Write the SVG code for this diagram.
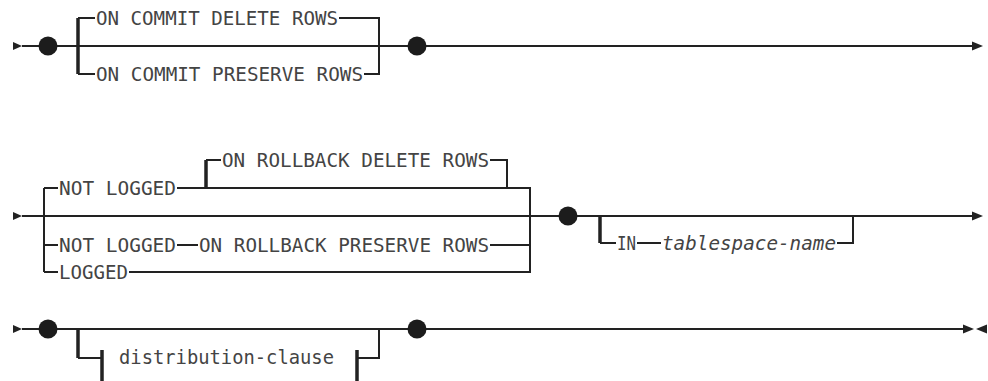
<svg xmlns="http://www.w3.org/2000/svg" width="988" height="381" viewBox="0 0 988 381">
<style>
.ln{stroke:#222;stroke-width:2;fill:none}
.thk{stroke:#222;stroke-width:3.5;fill:none}
.ah{fill:#222;stroke:none}
.dot{fill:#1c1c1c}
.t{font-family:"DejaVu Sans Mono","Liberation Mono",monospace;font-size:20px;fill:#444}
.i{font-style:italic}
</style>
<rect width="988" height="381" fill="#ffffff"/>
<g id="connectors">
  <!-- row 1 -->
  <polygon class="ah" points="13,42 22,46 13,50"/>
  <path class="ln" d="M22,46 H972"/>
  <polygon class="ah" points="972,41.5 983,46 972,50.5"/>
  <path class="thk" d="M78,18 V74"/>
  <path class="ln" d="M78,18 H95 M78,74 H95"/>
  <path class="ln" d="M339,18 H379 V74 H364"/>
  <!-- row 2 -->
  <polygon class="ah" points="13,212 22,216 13,220"/>
  <path class="ln" d="M22,216 H972"/>
  <polygon class="ah" points="972,211.5 983,216 972,220.5"/>
  <path class="ln" d="M44,188 V272 M44,188 H58 M44,245 H58 M44,272 H58"/>
  <path class="ln" d="M177,188 H530 V272 H129"/>
  <path class="ln" d="M177,245 H198 M490,245 H530"/>
  <path class="thk" d="M206,188 V160"/>
  <path class="ln" d="M206,160 H221 M490,160 H507 V188"/>
  <path class="thk" d="M600,216 V243"/>
  <path class="ln" d="M600,243 H616 M637,243 H661 M837,243 H853 V216"/>
  <!-- row 3 -->
  <polygon class="ah" points="13,325 22,329 13,333"/>
  <path class="ln" d="M22,329 H964"/>
  <polygon class="ah" points="963,324.5 974,329 963,333.5"/>
  <polygon class="ah" points="987,324.5 976,329 987,333.5"/>
  <path class="thk" d="M78,329 V358"/>
  <path class="ln" d="M78,358 H102"/>
  <path class="thk" d="M102,350 V381 M357,350 V381"/>
  <path class="ln" d="M357,358 H379 V329"/>
</g>
<g id="dot1"><circle class="dot" cx="48" cy="46" r="9.5"/></g>
<g id="dot2"><circle class="dot" cx="417" cy="46" r="9.5"/></g>
<g id="dot3"><circle class="dot" cx="568" cy="216" r="9.5"/></g>
<g id="dot4"><circle class="dot" cx="48" cy="329" r="9.5"/></g>
<g id="dot5"><circle class="dot" cx="417" cy="329" r="9.5"/></g>
<g id="on-commit-delete"><text class="t" x="96" y="25" textLength="242" lengthAdjust="spacingAndGlyphs">ON COMMIT DELETE ROWS</text></g>
<g id="on-commit-preserve"><text class="t" x="96" y="81" textLength="267" lengthAdjust="spacingAndGlyphs">ON COMMIT PRESERVE ROWS</text></g>
<g id="not-logged-1"><text class="t" x="59" y="195" textLength="117" lengthAdjust="spacingAndGlyphs">NOT LOGGED</text></g>
<g id="on-rollback-delete"><text class="t" x="222" y="167" textLength="267" lengthAdjust="spacingAndGlyphs">ON ROLLBACK DELETE ROWS</text></g>
<g id="not-logged-2"><text class="t" x="59" y="252" textLength="117" lengthAdjust="spacingAndGlyphs">NOT LOGGED</text></g>
<g id="on-rollback-preserve"><text class="t" x="199" y="252" textLength="290" lengthAdjust="spacingAndGlyphs">ON ROLLBACK PRESERVE ROWS</text></g>
<g id="logged"><text class="t" x="59" y="279" textLength="69" lengthAdjust="spacingAndGlyphs">LOGGED</text></g>
<g id="in"><text class="t" x="617" y="250" textLength="19" lengthAdjust="spacingAndGlyphs">IN</text></g>
<g id="tablespace-name"><text class="t i" x="662" y="250" textLength="174" lengthAdjust="spacingAndGlyphs">tablespace-name</text></g>
<g id="distribution-clause"><text class="t" x="119" y="364" textLength="215" lengthAdjust="spacingAndGlyphs">distribution-clause</text></g>
</svg>
